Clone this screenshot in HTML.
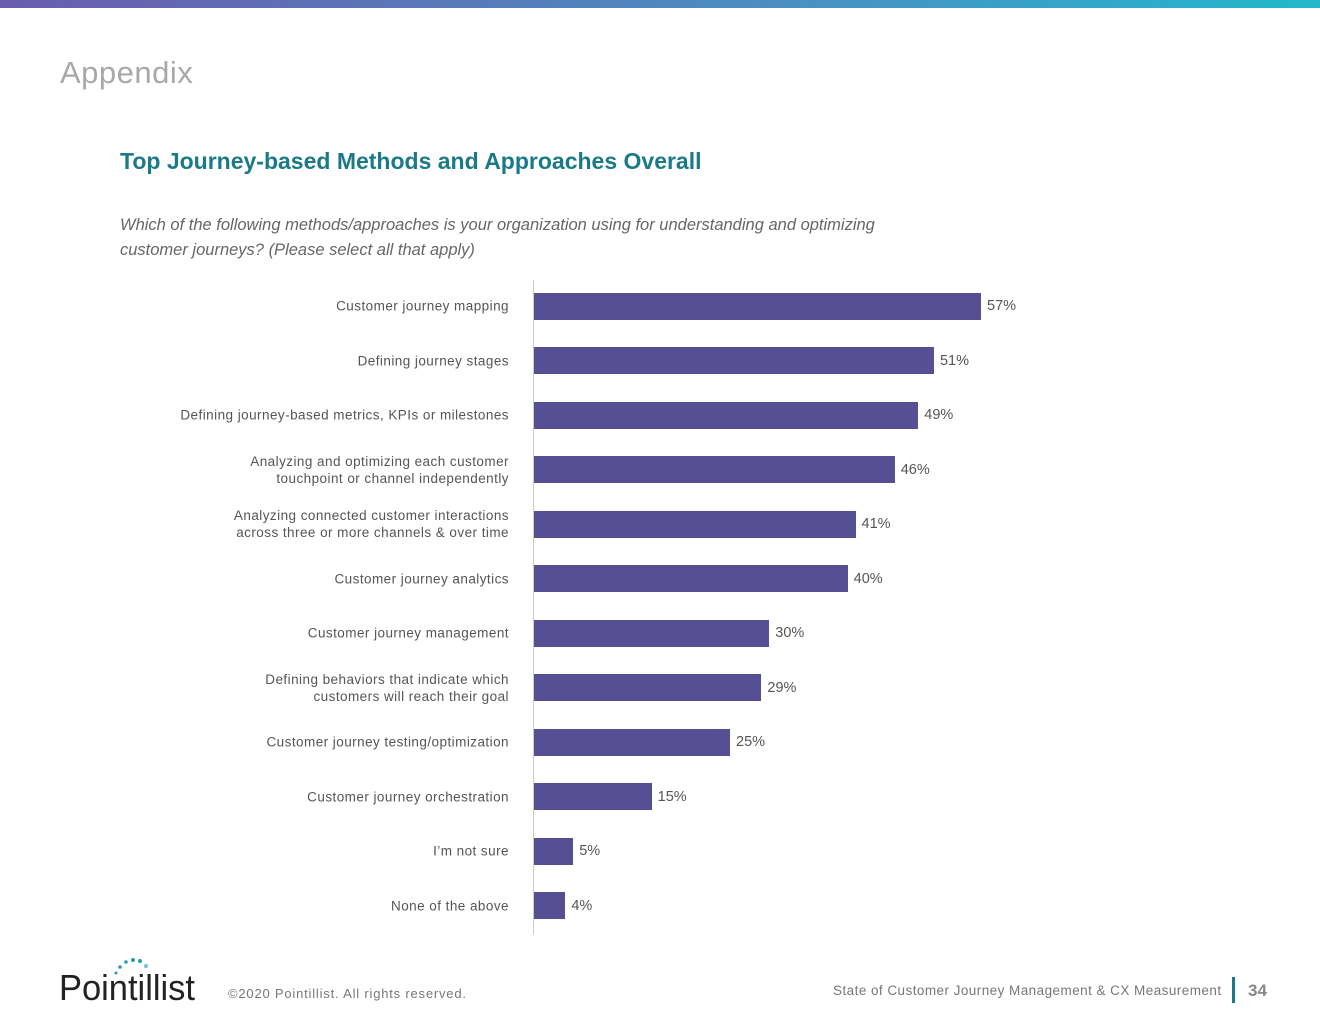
<!DOCTYPE html>
<html><head><meta charset="utf-8"><style>
body{margin:0;width:1320px;height:1020px;background:#fff;position:relative;overflow:hidden;font-family:"Liberation Sans",sans-serif}
.abs{position:absolute}
.lab{position:absolute;right:811px;text-align:right;font-size:13.5px;letter-spacing:0.45px;color:#555;line-height:17px;white-space:nowrap;transform:translateY(-50%)}
.val{position:absolute;font-size:14.5px;color:#555;transform:translateY(-50%)}
.bar{position:absolute;background:#574f93;height:27px}
</style></head><body>
<div class="abs" style="left:0;top:0;width:1320px;height:8px;background:linear-gradient(90deg,#6a5cae,#4a8fc4 60%,#21b9c9)"></div>
<div class="abs" style="left:60px;top:55px;font-size:31px;color:#a8a8a8;letter-spacing:0.5px">Appendix</div>
<div class="abs" style="left:120px;top:148px;font-size:23px;font-weight:bold;color:#1a7b87">Top Journey-based Methods and Approaches Overall</div>
<div class="abs" style="left:120px;top:213px;font-size:16.5px;font-style:italic;color:#666;line-height:25px">Which of the following methods/approaches is your organization using for understanding and optimizing<br>customer journeys? (Please select all that apply)</div>
<div class="abs" style="left:533px;top:280px;width:1px;height:655px;background:#ccc"></div>
<div id="chart"></div>
<div class="abs" style="left:58px;top:955px;width:150px;height:50px">
<svg width="150" height="50"><g fill="#2a9aa3"><circle cx="58" cy="18" r="1.5"/><circle cx="62" cy="12" r="1.8"/><circle cx="68" cy="7" r="1.8"/><circle cx="75" cy="5" r="2"/><circle cx="82" cy="6" r="2"/><circle cx="88" cy="11" r="2.2" fill="#7cc5d6"/></g>
<text x="1" y="45" font-family="Liberation Sans" font-size="36" fill="#222" textLength="136" lengthAdjust="spacingAndGlyphs">Pointillist</text></svg></div>
<div class="abs" style="left:228px;top:986px;font-size:13px;color:#777;letter-spacing:0.8px">©2020 Pointillist. All rights reserved.</div>
<div class="abs" style="left:833px;top:983px;font-size:13.5px;color:#777;letter-spacing:0.45px">State of Customer Journey Management &amp; CX Measurement</div>
<div class="abs" style="left:1232px;top:977px;width:3px;height:26px;background:#1a7b87"></div>
<div class="abs" style="left:1248px;top:981px;font-size:17px;font-weight:bold;color:#888">34</div>
<script>
const categories=["Customer journey mapping","Defining journey stages","Defining journey-based metrics, KPIs or milestones","Analyzing and optimizing each customer<br>touchpoint or channel independently","Analyzing connected customer interactions<br>across three or more channels &amp; over time","Customer journey analytics","Customer journey management","Defining behaviors that indicate which<br>customers will reach their goal","Customer journey testing/optimization","Customer journey orchestration","I’m not sure","None of the above"];
const values=[57,51,49,46,41,40,30,29,25,15,5,4];
const x0=534,pxPer=447/57,y0=306,step=54.5;
function xs(v){return v*pxPer;}
function ys(i){return y0+i*step;}
const c=document.getElementById('chart');
values.forEach((v,i)=>{
 const y=ys(i);
 const b=document.createElement('div');b.className='bar';
 
 
 b.style.left=x0+'px';b.style.top=(y-13.5)+'px';b.style.width=xs(v)+'px';c.appendChild(b);
 const t=document.createElement('div');t.className='val';
 
 
 t.style.left=(x0+xs(v)+6)+'px';t.style.top=y+'px';t.textContent=v+'%';c.appendChild(t);
 const l=document.createElement('div');l.className='lab';
 
 
 l.style.top=y+'px';l.innerHTML=categories[i];c.appendChild(l);
});
</script>
</body></html>
